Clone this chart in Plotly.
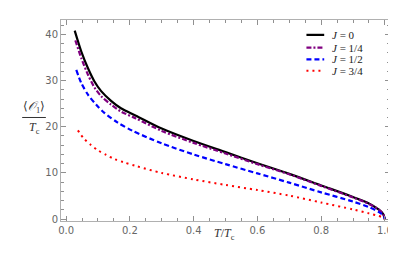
import plotly.graph_objects as go

T_j0 = [0.027, 0.048, 0.069, 0.089, 0.11, 0.141, 0.172, 0.219, 0.3, 0.4, 0.5, 0.6, 0.7, 0.8, 0.9, 0.95, 0.98, 0.99, 0.995, 1.0]
V_j0 = [40.8, 36.2, 32.6, 29.8, 27.7, 25.6, 24.0, 22.4, 19.6, 16.9, 14.5, 12.1, 9.8, 7.3, 4.8, 3.4, 2.1, 1.5, 1.05, 0.0]

T_j14 = [0.029, 0.048, 0.069, 0.089, 0.11, 0.141, 0.172, 0.219, 0.3, 0.4, 0.5, 0.6, 0.7, 0.8, 0.9, 0.95, 0.98, 0.99, 0.995, 1.0]
V_j14 = [38.7, 34.8, 31.2, 28.5, 26.6, 24.8, 23.3, 21.8, 19.1, 16.5, 14.2, 11.9, 9.7, 7.2, 4.7, 3.3, 2.1, 1.5, 1.05, 0.0]

T_j12 = [0.032, 0.048, 0.069, 0.094, 0.12, 0.162, 0.209, 0.3, 0.4, 0.5, 0.6, 0.7, 0.8, 0.9, 0.95, 0.98, 0.99, 0.995, 1.0]
V_j12 = [32.3, 29.4, 26.9, 24.8, 23.0, 20.9, 19.1, 16.4, 14.0, 11.9, 9.9, 7.9, 5.8, 3.8, 2.6, 1.6, 1.1, 0.8, 0.0]

T_j34 = [0.037, 0.055, 0.077, 0.1, 0.126, 0.152, 0.181, 0.219, 0.3, 0.4, 0.5, 0.6, 0.7, 0.8, 0.9, 0.95, 0.98, 0.99, 0.995, 1.0]
V_j34 = [19.2, 17.5, 16.1, 14.9, 13.9, 13.0, 12.3, 11.5, 10.0, 8.6, 7.4, 6.3, 5.1, 3.6, 2.1, 1.25, 0.7, 0.45, 0.3, 0.0]

legend_labels = ["<i>J</i> = 0", "<i>J</i> = 1/4", "<i>J</i> = 1/2", "<i>J</i> = 3/4"]
colors = ["black", "rgb(128,0,128)", "rgb(0,0,255)", "rgb(255,0,0)"]
dashes = ["solid", "5px,2px,2px,2px", "5px,3px", "2px,4px"]
widths = [2.2, 2.2, 2.2, 2.0]
data = [(T_j0, V_j0), (T_j14, V_j14), (T_j12, V_j12), (T_j34, V_j34)]

x_ticks = [0.0, 0.2, 0.4, 0.6, 0.8, 1.0]
x_tick_labels = ["0.0", "0.2", "0.4", "0.6", "0.8", "1.0"]
y_ticks = [0, 10, 20, 30, 40]
y_tick_labels = ["0", "10", "20", "30", "40"]

fig = go.Figure()
for (t, v), name, c, d, w in zip(data, legend_labels, colors, dashes, widths):
    fig.add_trace(go.Scatter(x=t, y=v, mode="lines", name=name, showlegend=False,
                             line=dict(color=c, dash=d, width=w, shape="spline", smoothing=0.8)))

axis_common = dict(
    showline=True, linecolor="#b0b0b0", linewidth=1, mirror="ticks",
    ticks="inside", ticklen=5, tickcolor="#909090", tickwidth=1,
    showgrid=False, zeroline=False,
    tickfont=dict(family="DejaVu Sans", size=10, color="#666666"),
)

fig.update_xaxes(range=[-0.016, 1.016], tickvals=x_ticks, ticktext=x_tick_labels,
                 minor=dict(ticks="inside", ticklen=3, dtick=0.05, tickcolor="#909090"),
                 **axis_common)
fig.update_yaxes(range=[-0.4, 43.1], tickvals=y_ticks, ticktext=y_tick_labels,
                 minor=dict(ticks="inside", ticklen=3, dtick=2, tickcolor="#909090"),
                 **axis_common)

# manual legend (compact, like the reference)
leg_y = [0.926, 0.863, 0.804, 0.748]
for i, lab in enumerate(legend_labels):
    fig.add_shape(type="line", xref="paper", yref="paper", x0=0.746, x1=0.800,
                  y0=leg_y[i], y1=leg_y[i],
                  line=dict(color=colors[i], dash=dashes[i], width=widths[i]))
    fig.add_annotation(xref="paper", yref="paper", x=0.818, y=leg_y[i], xanchor="left",
                       yanchor="middle", showarrow=False, text=lab,
                       font=dict(family="Liberation Serif", size=11, color="#222222"))

title_font = dict(family="Liberation Serif", size=12, color="#333333")
fig.add_annotation(xref="paper", yref="paper", x=0.498, y=-0.115, showarrow=False,
                   text="<i>T</i>/<i>T</i><sub>c</sub>", font=title_font)
fig.add_annotation(xref="paper", x=-0.082, xanchor="center", yref="paper", y=0.565, showarrow=False,
                   text="⟨<i>𝒪</i><sub>1</sub>⟩", font=title_font)
fig.add_annotation(xref="paper", x=-0.082, xanchor="center", yref="paper", y=0.465, showarrow=False,
                   text="<i>T</i><sub>c</sub>", font=title_font)
fig.add_shape(type="line", xref="paper", yref="paper", x0=-0.118, x1=-0.046, y0=0.515, y1=0.515,
              line=dict(color="#333333", width=1))

fig.update_layout(
    width=396, height=256,
    margin=dict(l=53, r=12, t=11, b=43),
    plot_bgcolor="white", paper_bgcolor="white",
    showlegend=False,
)

fig.write_html("out.html")
